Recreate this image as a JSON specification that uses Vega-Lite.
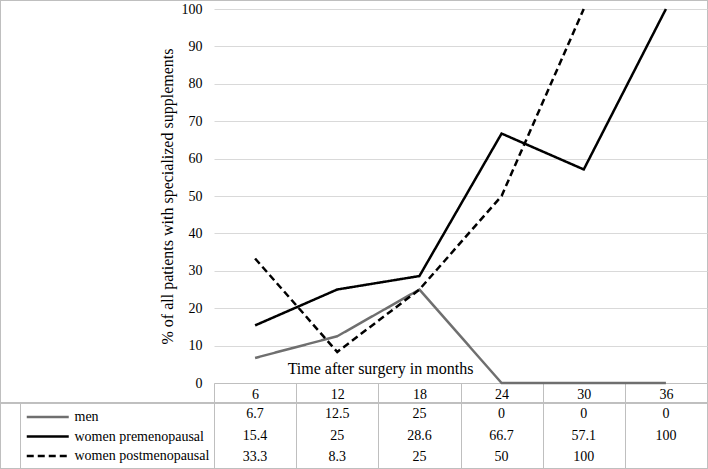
{
  "$schema": "https://vega.github.io/schema/vega-lite/v6.json",
  "width": 708,
  "height": 469,
  "autosize": {"type": "none"},
  "padding": 0,
  "background": "white",
  "config": {
    "view": {"stroke": "#bfbfbf", "strokeWidth": 2},
    "font": "Liberation Serif",
    "text": {"font": "Liberation Serif"}
  },
  "data": {
    "values": [
      {"series": "men", "month": 6, "value": 6.7},
      {"series": "men", "month": 12, "value": 12.5},
      {"series": "men", "month": 18, "value": 25},
      {"series": "men", "month": 24, "value": 0},
      {"series": "men", "month": 30, "value": 0},
      {"series": "men", "month": 36, "value": 0},
      {"series": "women premenopausal", "month": 6, "value": 15.4},
      {"series": "women premenopausal", "month": 12, "value": 25},
      {"series": "women premenopausal", "month": 18, "value": 28.6},
      {"series": "women premenopausal", "month": 24, "value": 66.7},
      {"series": "women premenopausal", "month": 30, "value": 57.1},
      {"series": "women premenopausal", "month": 36, "value": 100},
      {"series": "women postmenopausal", "month": 6, "value": 33.3},
      {"series": "women postmenopausal", "month": 12, "value": 8.3},
      {"series": "women postmenopausal", "month": 18, "value": 25},
      {"series": "women postmenopausal", "month": 24, "value": 50},
      {"series": "women postmenopausal", "month": 30, "value": 100}
    ]
  },
  "layer": [
    {
      "mark": {"type": "line", "strokeWidth": 2.5},
      "encoding": {
        "x": {
          "field": "month",
          "type": "ordinal",
          "bandPosition": 0.5,
          "scale": {"type": "band", "domain": [6, 12, 18, 24, 30, 36], "range": [214, 707], "paddingInner": 0, "paddingOuter": 0},
          "axis": {
            "orient": "bottom",
            "offset": -86,
            "domain": true,
            "domainColor": "#bfbfbf",
            "ticks": true,
            "tickColor": "#bfbfbf",
            "tickSize": 85,
            "tickBand": "extent",
            "labelPadding": -81,
            "labelAngle": 0,
            "labelFontSize": 14,
            "labelColor": "black",
            "labelFont": "Liberation Serif",
            "title": "Time after surgery in months",
            "titleX": 380,
            "titleY": -15,
            "titleBaseline": "middle",
            "titleAlign": "center",
            "titleFontSize": 16,
            "titleFontWeight": "normal",
            "titleColor": "black",
            "titleFont": "Liberation Serif"
          }
        },
        "y": {
          "field": "value",
          "type": "quantitative",
          "scale": {"domain": [0, 100], "range": [383, 9], "nice": false},
          "axis": {
            "orient": "left",
            "offset": -214,
            "domain": false,
            "ticks": false,
            "values": [0, 10, 20, 30, 40, 50, 60, 70, 80, 90, 100],
            "labelPadding": 12,
            "labelFontSize": 14,
            "labelColor": "black",
            "labelFont": "Liberation Serif",
            "grid": true,
            "gridColor": "#d9d9d9",
            "title": "% of all patients with specialized supplements",
            "titleFontSize": 16,
            "titleFontWeight": "normal",
            "titleColor": "black",
            "titleFont": "Liberation Serif",
            "titlePadding": 6
          }
        },
        "color": {
          "field": "series",
          "type": "nominal",
          "scale": {"domain": ["men", "women premenopausal", "women postmenopausal"], "range": ["#6f6f6f", "#000000", "#000000"]},
          "legend": {
            "orient": "none",
            "legendX": 40.75,
            "legendY": 410,
            "title": null,
            "symbolType": "M-4,0H4",
            "symbolSize": 110.25,
            "symbolStrokeWidth": 2.5,
            "labelOffset": 19.75,
            "labelFontSize": 14,
            "labelFont": "Liberation Serif",
            "labelColor": "black",
            "rowPadding": 5.5,
            "padding": 0
          }
        },
        "strokeDash": {
          "field": "series",
          "type": "nominal",
          "scale": {"domain": ["men", "women premenopausal", "women postmenopausal"], "range": [[1, 0], [1, 0], [7, 4]]},
          "legend": {
            "orient": "none",
            "legendX": 40.75,
            "legendY": 410,
            "title": null
          }
        }
      }
    },
    {
      "layer": [
        {
          "mark": {"type": "rule", "color": "#bfbfbf", "strokeWidth": 1},
          "encoding": {
            "y": {"datum": "men", "type": "nominal", "bandPosition": 0}
          }
        },
        {
          "mark": {"type": "text", "fontSize": 14, "font": "Liberation Serif", "color": "black", "baseline": "middle", "align": "center"},
          "encoding": {
            "x": {"field": "month", "type": "ordinal", "bandPosition": 0.5},
            "y": {
              "field": "series",
              "type": "nominal",
              "bandPosition": 0.5,
              "scale": {"type": "band", "domain": ["men", "women premenopausal", "women postmenopausal"], "range": [403, 468], "paddingInner": 0, "paddingOuter": 0},
              "axis": {
                "orient": "left",
                "offset": -20,
                "domain": true,
                "domainColor": "#bfbfbf",
                "ticks": false,
                "labels": false,
                "grid": false,
                "title": null
              }
            },
            "text": {"field": "value", "type": "quantitative", "format": "~g"}
          }
        }
      ]
    }
  ],
  "resolve": {"scale": {"y": "independent"}, "axis": {"y": "independent"}}
}
